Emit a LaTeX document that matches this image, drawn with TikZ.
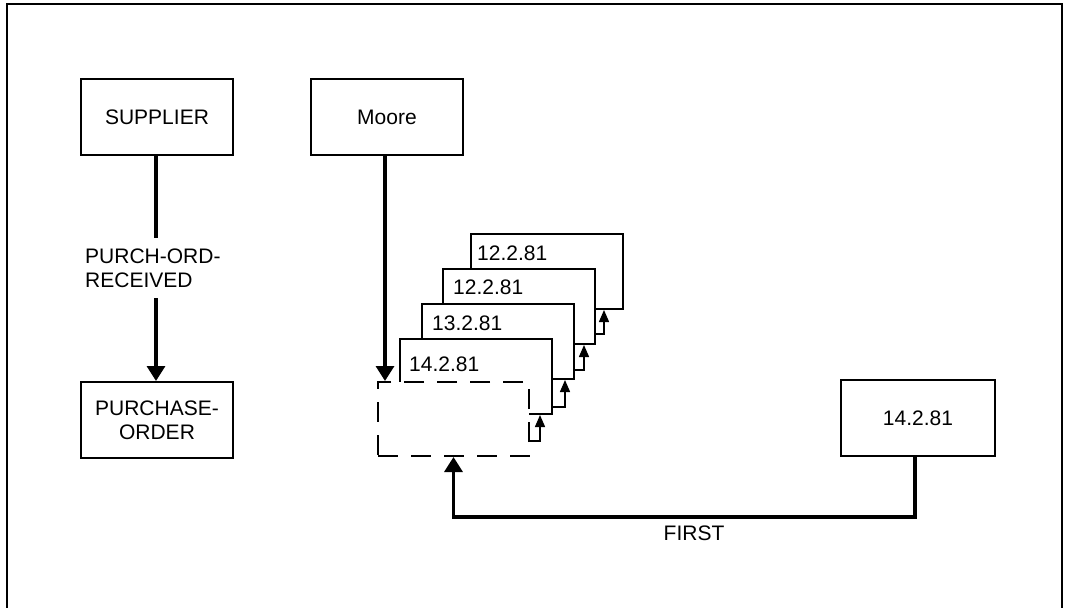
\documentclass[tikz,border=0pt]{standalone}
\usepackage{fontspec}
\setmainfont{Liberation Sans}
\usetikzlibrary{arrows.meta,calc}
\begin{document}
\begin{tikzpicture}[x=1pt,y=-1pt,
  every node/.style={font=\fontsize{21pt}{24pt}\selectfont},
  box/.style={draw,line width=2pt,fill=white,minimum width=152pt,minimum height=76pt,inner sep=0pt,align=center},
  card/.style={draw,line width=2pt,fill=white,minimum width=152pt,minimum height=75pt,inner sep=0pt},
  dashbox/.style={draw,line width=2pt,fill=white,dash pattern=on 20pt off 13pt,minimum width=151pt,minimum height=74pt,inner sep=0pt},
  lbl/.style={inner sep=0pt,anchor=west},
  conn/.style={line width=3.3pt},
  arr/.style={line width=3.3pt,-{Triangle[width=18pt,length=15pt]}},
  small/.style={line width=1.4pt,-{Triangle[width=10pt,length=12pt]}}]
\useasboundingbox (0,0) rectangle (1069,608);
\draw[line width=1.5pt] (7,608) -- (7,4) -- (1062,4) -- (1062,608);

\node[box] (supplier) at (157,117) {SUPPLIER};
\node[box] (moore) at (387,117) {Moore};
\node[box] (po) at (157,420) {PURCHASE-\\ORDER};
\node[box,minimum width=154pt] (right) at (918,418) {14.2.81};

% stacked cards, back to front
\node[card,anchor=north west] (c4) at (470,233) {};
\node[lbl] (t4) at (477,253) {12.2.81};
\node[card,anchor=north west] (c3) at (442,268) {};
\node[lbl] (t3) at (453,287) {12.2.81};
\node[card,anchor=north west] (c2) at (421,303) {};
\node[lbl] (t2) at (432,323) {13.2.81};
\node[card,anchor=north west] (c1) at (399,338) {};
\node[lbl] (t1) at (409,364) {14.2.81};
\node[dashbox,anchor=north west] (dashed) at (377,381) {};

\draw[small] ([yshift=-22pt]dashed.east) -| ([xshift=-13pt]c1.south east);
\draw[small] ([yshift=8pt]c1.south east) -| ([xshift=-10pt]c2.south east);
\draw[small] ([yshift=10pt]c2.south east) -| ([xshift=-12pt]c3.south east);
\draw[small] ([yshift=11pt]c3.south east) -| ([xshift=-20pt]c4.south east);

% supplier -> purchase order
\node[lbl,align=left] (pl) at (85,268) {PURCH-ORD-\\RECEIVED};
\coordinate (s1) at (156,238);
\coordinate (s2) at (156,298);
\draw[conn] (supplier.south -| s1) -- (s1);
\draw[arr] (s2) -- (po.north -| s2);

% moore -> dashed
\draw[arr] ([xshift=-2pt]moore.south) -- ([xshift=-2pt]moore.south |- dashed.north);

% first
\node (first) at (694,533) {FIRST};
\draw[arr] ([xshift=-3pt]right.south) -- ++(0,60) -| (dashed.south);
\end{tikzpicture}
\end{document}
